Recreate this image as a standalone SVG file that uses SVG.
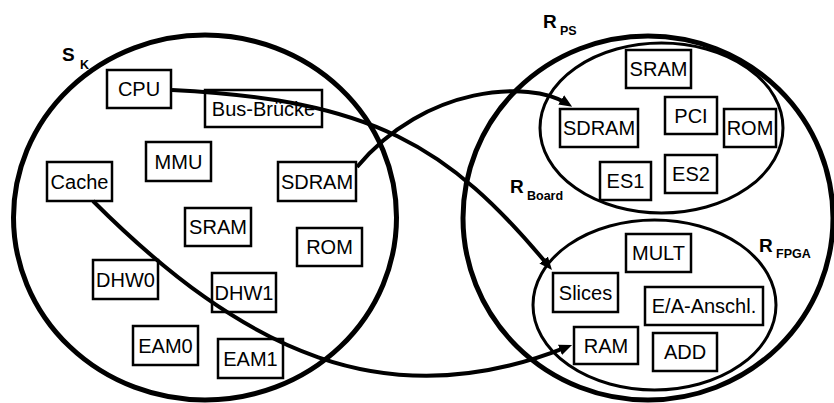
<svg xmlns="http://www.w3.org/2000/svg" width="834" height="403" viewBox="0 0 834 403">
  <style>
    .set { fill: none; stroke: #000; }
    .big { stroke-width: 5; }
    .sub { stroke-width: 3; }
    .box rect { fill: #fff; stroke: #000; stroke-width: 2.5; }
    .box text { font-family: "Liberation Sans", Arial, sans-serif; font-size: 20px; text-anchor: middle; fill: #000; }
    .lbl { font-family: "Liberation Sans", Arial, sans-serif; font-weight: bold; fill: #000; }
    .lbl .main { font-size: 19px; }
    .lbl .idx { font-size: 12.5px; }
    .conn path { fill: none; stroke: #000; stroke-width: 4; marker-end: url(#head); }
  </style>
  <defs>
    <marker id="head" viewBox="0 0 13 11" refX="6.5" refY="5.5" markerWidth="13" markerHeight="11" markerUnits="userSpaceOnUse" orient="auto">
      <path d="M0,0 L13,5.5 L0,11 z" fill="#000"/>
    </marker>
  </defs>

  <rect width="834" height="403" fill="#fff"/>

  <!-- resource sets -->
  <g id="sets">
    <ellipse class="set big" cx="205" cy="217.5" rx="191.5" ry="182.5"/>
    <ellipse class="set big" cx="648" cy="218" rx="185" ry="182"/>
    <ellipse class="set sub" cx="661.5" cy="128" rx="121.5" ry="85"/>
    <ellipse class="set sub" cx="654.5" cy="305" rx="121.5" ry="85"/>
  </g>

  <!-- set labels -->
  <g id="label-sk" class="lbl"><text x="62" y="61" class="main">S</text><text x="80" y="69" class="idx">K</text></g>
  <g id="label-rps" class="lbl"><text x="543" y="28" class="main">R</text><text x="560" y="35" class="idx">PS</text></g>
  <g id="label-rboard" class="lbl"><text x="510" y="193" class="main">R</text><text x="527" y="200" class="idx">Board</text></g>
  <g id="label-rfpga" class="lbl"><text x="759" y="252" class="main">R</text><text x="776" y="258" class="idx">FPGA</text></g>

  <!-- system components -->
  <g id="cpu" class="box"><rect x="107" y="70" width="64" height="38"/><text x="139" y="96">CPU</text></g>
  <g id="bus-bruecke" class="box"><rect x="205" y="90" width="117" height="37"/><text x="263.5" y="115.5">Bus-Brücke</text></g>
  <g id="mmu" class="box"><rect x="146" y="142" width="65" height="39"/><text x="178.5" y="168.5">MMU</text></g>
  <g id="cache" class="box"><rect x="47" y="162" width="65" height="39"/><text x="79.5" y="188.5">Cache</text></g>
  <g id="sdram-k" class="box"><rect x="278" y="162" width="78" height="39"/><text x="317" y="188.5">SDRAM</text></g>
  <g id="sram-k" class="box"><rect x="185" y="208" width="66" height="38"/><text x="218" y="234">SRAM</text></g>
  <g id="rom-k" class="box"><rect x="297" y="228" width="65" height="38"/><text x="329.5" y="254">ROM</text></g>
  <g id="dhw0" class="box"><rect x="93" y="260" width="65" height="39"/><text x="125.5" y="286.5">DHW0</text></g>
  <g id="dhw1" class="box"><rect x="212" y="273" width="64" height="39"/><text x="244" y="299.5">DHW1</text></g>
  <g id="eam0" class="box"><rect x="133" y="326" width="65" height="39"/><text x="165.5" y="352.5">EAM0</text></g>
  <g id="eam1" class="box"><rect x="218" y="339" width="65" height="39"/><text x="250.5" y="365.5">EAM1</text></g>

  <!-- processor system resources -->
  <g id="sram-ps" class="box"><rect x="626" y="50" width="65" height="38"/><text x="658.5" y="76">SRAM</text></g>
  <g id="sdram-ps" class="box"><rect x="560" y="109" width="78" height="38"/><text x="599" y="135">SDRAM</text></g>
  <g id="pci" class="box"><rect x="665" y="97" width="52" height="37"/><text x="691" y="122.5">PCI</text></g>
  <g id="rom-ps" class="box"><rect x="724" y="109" width="52" height="38"/><text x="750" y="135">ROM</text></g>
  <g id="es1" class="box"><rect x="600" y="162" width="51" height="38"/><text x="625.5" y="188">ES1</text></g>
  <g id="es2" class="box"><rect x="665" y="155" width="52" height="38"/><text x="691" y="181">ES2</text></g>

  <!-- FPGA resources -->
  <g id="mult" class="box"><rect x="626" y="234" width="65" height="38"/><text x="658.5" y="260">MULT</text></g>
  <g id="slices" class="box"><rect x="553" y="273" width="65" height="39"/><text x="585.5" y="299.5">Slices</text></g>
  <g id="ea-anschl" class="box"><rect x="645" y="287" width="118" height="38"/><text x="704" y="313">E/A-Anschl.</text></g>
  <g id="ram" class="box"><rect x="574" y="327" width="64" height="37"/><text x="606" y="352.5">RAM</text></g>
  <g id="add" class="box"><rect x="653" y="333" width="64" height="38"/><text x="685" y="359">ADD</text></g>

  <!-- mappings -->
  <g id="connectors" class="conn">
    <path d="M172,90 C372,100 448,145 547.8,265"/>
    <path d="M357,167 C425,85 530,80 566.7,103.3"/>
    <path d="M93,201 C243,351 386,419 566,347.4"/>
  </g>
</svg>
